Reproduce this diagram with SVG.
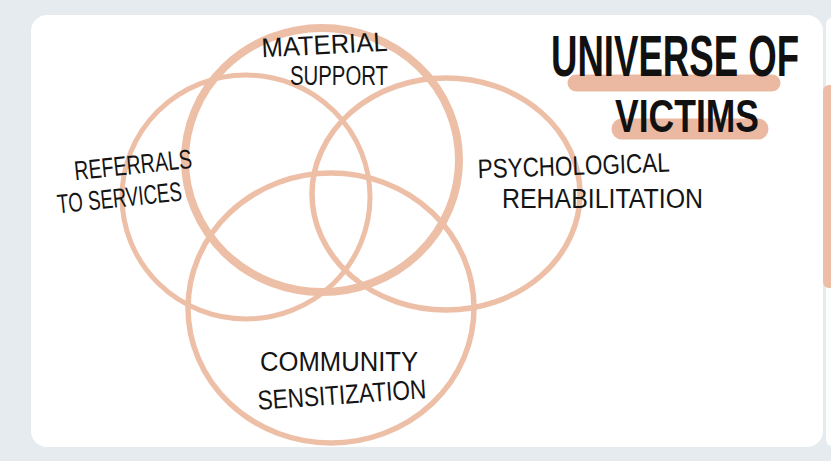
<svg xmlns="http://www.w3.org/2000/svg" width="831" height="461" viewBox="0 0 831 461">
  <style>
    .ring { fill: none; stroke: #EDBFA7; }
    .lbl { font-family: "Liberation Sans", Arial, sans-serif; font-size: 27px; fill: #141414; }
    .ttl { font-family: "Liberation Sans", Arial, sans-serif; font-weight: bold; fill: #111111; }
    .hl { stroke: #EBB9A1; stroke-linecap: round; fill: none; }
  </style>
  <rect x="0" y="0" width="831" height="461" fill="#E6EBEF"/>
  <rect x="826" y="18" width="20" height="428" rx="6" fill="#FDFEFE"/>
  <rect x="31" y="15" width="792" height="432" rx="16" fill="#FFFFFF"/>
  <rect x="823" y="85" width="20" height="203" rx="6" fill="#EEBDA5"/>

  <g id="connectors"/>

  <g id="referrals">
    <ellipse class="ring" cx="246" cy="197" rx="124" ry="122" stroke-width="5"/>
  </g>
  <g id="psychological">
    <ellipse class="ring" cx="446" cy="194" rx="134" ry="116" stroke-width="5.5"/>
  </g>
  <g id="community">
    <ellipse class="ring" cx="331" cy="308" rx="143" ry="135" stroke-width="5.5"/>
  </g>
  <g id="material">
    <ellipse class="ring" cx="322" cy="160" rx="137" ry="132" stroke-width="8"/>
  </g>

  <g id="title">
    <line class="hl" x1="576" y1="83" x2="772" y2="83" stroke-width="17"/>
    <line class="hl" x1="622" y1="129" x2="758" y2="129" stroke-width="21"/>
    <text class="ttl" x="0" y="0" font-size="57" transform="translate(551 76) scale(0.62 1)" textLength="400" lengthAdjust="spacingAndGlyphs">UNIVERSE OF</text>
    <text class="ttl" x="0" y="0" font-size="47" transform="translate(615 132) scale(0.75 1)" textLength="192" lengthAdjust="spacingAndGlyphs">VICTIMS</text>
  </g>

  <g id="labels">
    <text class="lbl" x="262" y="54" transform="rotate(-3 325 54)" textLength="126" lengthAdjust="spacingAndGlyphs">MATERIAL</text>
    <text class="lbl" x="290" y="85" textLength="98" lengthAdjust="spacingAndGlyphs">SUPPORT</text>
    <text class="lbl" x="75" y="174" font-size="26" transform="rotate(-6 134 174)" textLength="118" lengthAdjust="spacingAndGlyphs">REFERRALS</text>
    <text class="lbl" x="58" y="207" font-size="26" transform="rotate(-6 120 207)" textLength="125" lengthAdjust="spacingAndGlyphs">TO SERVICES</text>
    <text class="lbl" x="478" y="175" font-size="29" transform="rotate(-2 574 175)" textLength="192" lengthAdjust="spacingAndGlyphs">PSYCHOLOGICAL</text>
    <text class="lbl" x="502" y="208" font-size="31" textLength="201" lengthAdjust="spacingAndGlyphs">REHABILITATION</text>
    <text class="lbl" x="260" y="371" font-size="28" textLength="158" lengthAdjust="spacingAndGlyphs">COMMUNITY</text>
    <text class="lbl" x="258" y="404" font-size="27" transform="rotate(-4 342 404)" textLength="169" lengthAdjust="spacingAndGlyphs">SENSITIZATION</text>
  </g>
</svg>
